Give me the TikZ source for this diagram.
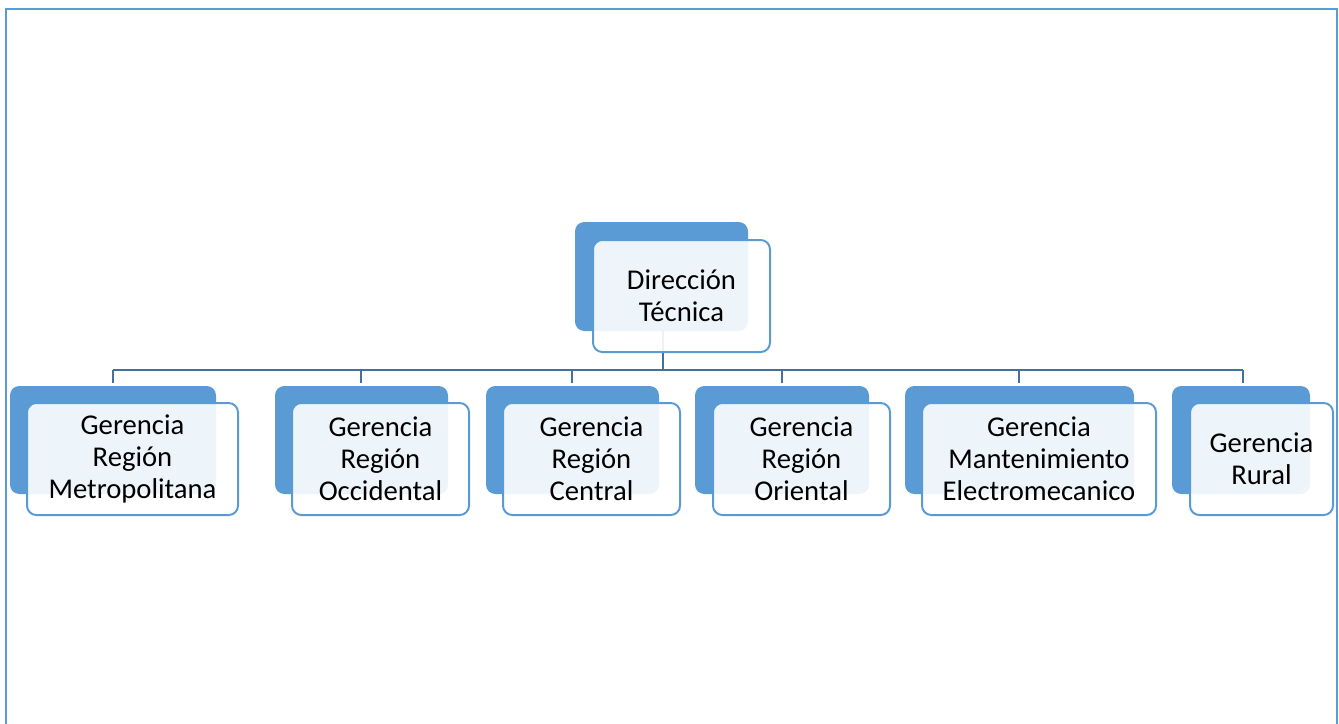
\documentclass[tikz,border=0pt]{standalone}
\usepackage{fontspec}
\setmainfont{Carlito}
\usetikzlibrary{fit}
\definecolor{sblue}{HTML}{5B9BD5}
\definecolor{lblue}{HTML}{41719C}
\tikzset{
  x=0.75pt, y=-0.75pt,
  backbox/.style={rectangle, rounded corners=7pt, fill=sblue, inner sep=0pt},
  frontbox/.style={rectangle, rounded corners=7pt, draw=sblue, line width=1.5pt, fill=white, fill opacity=0.9, inner sep=0pt},
  lbl/.style={align=center, text=black, font=\fontsize{21.5}{24}\selectfont, inner sep=0pt},
  conn/.style={draw=lblue, line width=2pt},
  frame/.style={draw=sblue, line width=1.6pt}
}
\begin{document}
\begin{tikzpicture}
\useasboundingbox (0,0) rectangle (1339,724);
\draw[frame] (6,726) -- (6,9) -- (1337,9) -- (1337,726);
% back boxes (positions)
\node[backbox, fit={(575,222)(748,331)}] (b0) {};
\node[backbox, fit={(10,386)(216,494)}] (b1) {};
\node[backbox, fit={(275,386)(448,494)}] (b2) {};
\node[backbox, fit={(486,386)(659,494)}] (b3) {};
\node[backbox, fit={(695,386)(869,494)}] (b4) {};
\node[backbox, fit={(905,386)(1134,494)}] (b5) {};
\node[backbox, fit={(1172,386)(1310,494)}] (b6) {};
% connectors
\coordinate (bus) at (663,370);
\draw[conn] (663,331) -- (bus);
\draw[conn] (113,370) -- (1243,370);
\foreach \i/\x in {1/113,2/361,3/572,4/782,5/1019,6/1243}{
  \draw[conn] (\x,370) -- (\x,383);
}
% front boxes
\node[frontbox, fit={(593,240)(770,352)}] (f0) {};
\node[frontbox, fit={(27,403)(238,515)}] (f1) {};
\node[frontbox, fit={(292,403)(469,515)}] (f2) {};
\node[frontbox, fit={(503,403)(680,515)}] (f3) {};
\node[frontbox, fit={(713,403)(890,515)}] (f4) {};
\node[frontbox, fit={(922,403)(1156,515)}] (f5) {};
\node[frontbox, fit={(1190,403)(1333,515)}] (f6) {};
% labels
\node[lbl] (t0) at (f0) {Dirección\\Técnica};
\node[lbl] (t1) at (f1) {Gerencia\\Región\\Metropolitana};
\node[lbl] (t2) at (f2) {Gerencia\\Región\\Occidental};
\node[lbl] (t3) at (f3) {Gerencia\\Región\\Central};
\node[lbl] (t4) at (f4) {Gerencia\\Región\\Oriental};
\node[lbl] (t5) at (f5) {Gerencia\\Mantenimiento\\Electromecanico};
\node[lbl] (t6) at (f6) {Gerencia\\Rural};
\end{tikzpicture}
\end{document}
